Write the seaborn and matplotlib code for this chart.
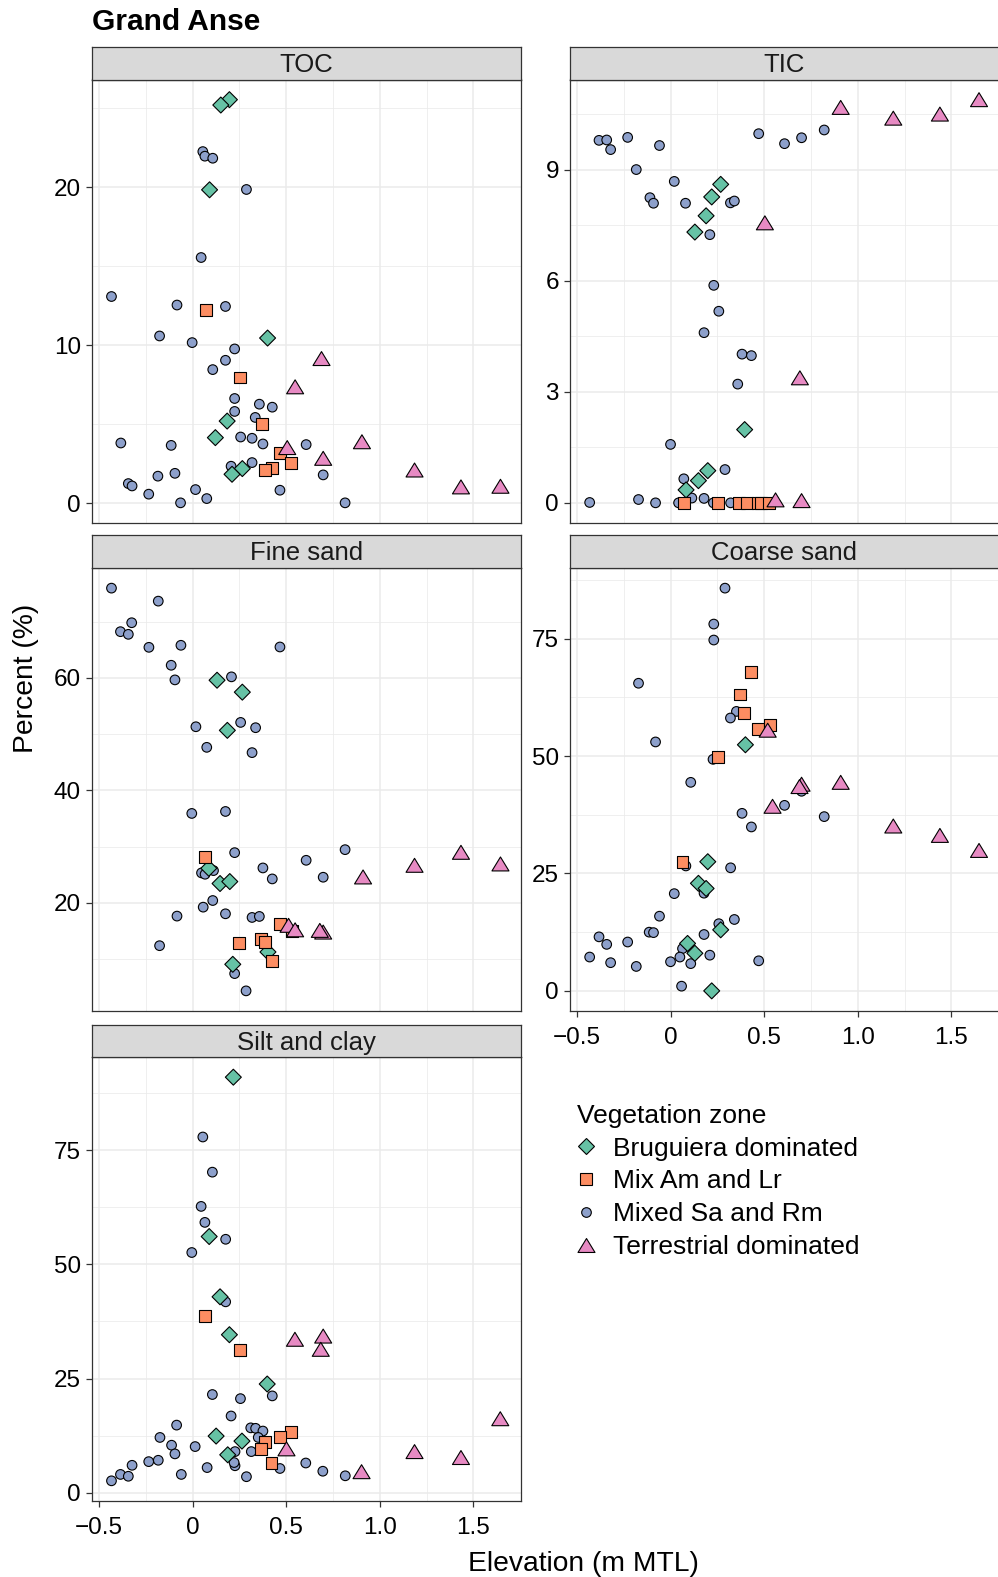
import numpy as np
import pandas as pd
import matplotlib
matplotlib.use("Agg")
import matplotlib.pyplot as plt
from matplotlib.lines import Line2D
from matplotlib.path import Path
from matplotlib.ticker import FixedLocator, FixedFormatter
import seaborn as sns

# ---------------- data ----------------
zones = ["Bruguiera dominated", "Mix Am and Lr", "Mixed Sa and Rm", "Terrestrial dominated"]

# TOC
toc_bru_x = [0.197, 0.151, 0.091, 0.401, 0.185, 0.122, 0.266, 0.211]
toc_bru_y = [25.56, 25.22, 19.85, 10.46, 5.20, 4.15, 2.19, 1.83]
toc_mix_x = [0.071, 0.252, 0.371, 0.465, 0.525, 0.426, 0.385]
toc_mix_y = [12.25, 7.96, 5.03, 3.16, 2.55, 2.25, 2.08]
toc_ter_x = [0.689, 0.548, 0.506, 0.905, 0.698, 1.186, 1.434, 1.645]
toc_ter_y = [9.16, 7.37, 3.52, 3.89, 2.84, 2.10, 1.03, 1.07]
toc_sar_x = [0.055, 0.066, 0.108, 0.288, 0.046, -0.433, -0.083, 0.176, -0.176, -0.002,
             0.225, 0.176, 0.108, 0.225, 0.357, 0.426, 0.225, 0.335, 0.257, 0.318,
             0.376, -0.383, -0.114, 0.607, 0.206, 0.318, -0.094, -0.185, -0.343, -0.323,
             0.698, 0.467, -0.234, 0.016, 0.076, -0.064, 0.815]
toc_sar_y = [22.27, 21.98, 21.85, 19.87, 15.56, 13.09, 12.55, 12.46, 10.59, 10.17,
             9.77, 9.05, 8.46, 6.63, 6.27, 6.08, 5.81, 5.43, 4.19, 4.11,
             3.75, 3.81, 3.66, 3.71, 2.34, 2.57, 1.89, 1.71, 1.24, 1.09,
             1.79, 0.82, 0.57, 0.86, 0.29, 0.02, 0.02]

# TIC
tic_bru_x = [0.268, 0.220, 0.190, 0.130, 0.396, 0.199, 0.149, 0.083]
tic_bru_y = [8.61, 8.27, 7.76, 7.32, 1.98, 0.87, 0.60, 0.35]
tic_mix_x = [0.073, 0.256, 0.368, 0.407, 0.465, 0.483, 0.526]
tic_mix_y = [0.0, 0.0, 0.0, 0.0, 0.0, 0.0, 0.0]
tic_ter_x = [0.909, 1.190, 1.439, 1.648, 0.504, 0.691, 0.561, 0.700]
tic_ter_y = [10.69, 10.40, 10.51, 10.90, 7.57, 3.38, 0.08, 0.06]
tic_sar_x = [-0.382, -0.341, -0.320, -0.229, -0.059, 0.471, 0.609, 0.700, 0.821, -0.183,
             0.020, -0.110, -0.091, 0.080, 0.320, 0.341, 0.210, 0.231, 0.258, 0.179,
             0.382, 0.432, 0.359, 0.000, 0.291, 0.071, -0.432, -0.171, -0.080, 0.043,
             0.114, 0.179, 0.229, 0.321]
tic_sar_y = [9.80, 9.81, 9.55, 9.88, 9.66, 9.98, 9.71, 9.87, 10.08, 9.01,
             8.69, 8.25, 8.10, 8.10, 8.11, 8.16, 7.25, 5.88, 5.18, 4.60,
             4.02, 3.98, 3.21, 1.58, 0.90, 0.65, 0.01, 0.09, 0.00, 0.00,
             0.13, 0.12, 0.00, 0.00]

# Fine sand
fine_bru_x = [0.131, 0.266, 0.186, 0.087, 0.147, 0.199, 0.403, 0.215]
fine_bru_y = [59.57, 57.45, 50.66, 26.14, 23.43, 23.78, 11.26, 9.07]
fine_mix_x = [0.066, 0.247, 0.366, 0.387, 0.467, 0.531, 0.426]
fine_mix_y = [28.21, 12.91, 13.62, 13.0, 16.16, 14.98, 9.6]
fine_ter_x = [0.911, 1.186, 1.434, 1.645, 0.698, 0.680, 0.513, 0.548]
fine_ter_y = [24.6, 26.67, 28.98, 26.91, 14.8, 15.1, 16.0, 15.2]
fine_sar_x = [-0.433, -0.183, -0.325, -0.385, -0.343, -0.233, -0.062, 0.467, -0.114, -0.094,
              0.208, 0.257, 0.018, 0.337, 0.076, 0.318, -0.004, 0.176, 0.225, 0.815,
              0.607, 0.376, 0.048, 0.067, 0.112, 0.426, 0.698, 0.108, 0.057, 0.176,
              -0.083, 0.318, 0.357, -0.176, 0.225, 0.286]
fine_sar_y = [75.94, 73.63, 69.79, 68.2, 67.73, 65.42, 65.78, 65.48, 62.23, 59.63,
              60.17, 52.07, 51.3, 51.13, 47.64, 46.7, 35.89, 36.24, 28.92, 29.45,
              27.56, 26.2, 25.32, 25.08, 25.73, 24.25, 24.55, 20.41, 19.23, 18.05,
              17.64, 17.4, 17.58, 12.38, 7.42, 4.35]

# Coarse sand
coarse_bru_x = [0.400, 0.199, 0.149, 0.190, 0.268, 0.091, 0.130, 0.220]
coarse_bru_y = [52.4, 27.5, 22.9, 21.8, 13.0, 10.1, 8.0, 0.0]
coarse_mix_x = [0.430, 0.369, 0.391, 0.465, 0.529, 0.256, 0.064]
coarse_mix_y = [67.9, 63.1, 59.2, 55.8, 56.6, 49.8, 27.4]
coarse_ter_x = [0.519, 0.700, 0.909, 0.545, 1.190, 1.439, 1.648, 0.689]
coarse_ter_y = [55.5, 44.0, 44.4, 39.3, 35.1, 33.1, 29.9, 43.5]
coarse_sar_x = [0.291, 0.231, 0.231, -0.171, -0.080, 0.352, 0.320, 0.227, 0.108, 0.700,
                0.609, 0.382, 0.821, 0.432, 0.069, 0.082, 0.321, 0.020, 0.179, -0.059,
                -0.114, -0.091, 0.258, 0.341, -0.382, -0.341, -0.229, 0.179, 0.064, -0.432,
                -0.320, -0.183, 0.000, 0.050, 0.108, 0.210, 0.471, 0.059]
coarse_sar_y = [85.75, 78.1, 74.7, 65.5, 53.0, 59.5, 58.1, 49.3, 44.4, 42.5,
                39.5, 37.8, 37.1, 34.9, 27.3, 26.6, 26.2, 20.7, 20.8, 15.9,
                12.5, 12.4, 14.3, 15.2, 11.5, 9.9, 10.4, 12.0, 9.0, 7.2,
                6.0, 5.2, 6.2, 7.2, 5.8, 7.6, 6.4, 1.0]

# Silt and clay
silt_bru_x = [0.218, 0.089, 0.147, 0.197, 0.399, 0.126, 0.264, 0.188]
silt_bru_y = [91.0, 56.1, 42.9, 34.6, 23.8, 12.4, 11.3, 8.3]
silt_mix_x = [0.066, 0.252, 0.525, 0.465, 0.389, 0.366, 0.422]
silt_mix_y = [38.8, 31.3, 13.2, 12.1, 11.2, 9.6, 6.5]
silt_ter_x = [0.547, 0.698, 0.685, 0.502, 0.903, 1.186, 1.434, 1.644]
silt_ter_y = [33.6, 34.3, 31.4, 9.6, 4.6, 9.0, 7.7, 16.2]
silt_sar_x = [0.055, 0.106, 0.046, 0.066, 0.177, -0.004, 0.177, 0.106, 0.426, 0.256,
              0.206, -0.085, 0.311, 0.337, 0.376, 0.351, -0.174, -0.112, 0.014, -0.094,
              0.227, 0.314, -0.234, -0.183, -0.323, -0.385, -0.343, -0.433, -0.060, 0.078,
              0.227, 0.222, 0.288, 0.467, 0.605, 0.696, 0.816]
silt_sar_y = [77.9, 70.2, 62.7, 59.2, 55.5, 52.6, 41.8, 21.5, 21.2, 20.6,
              16.8, 14.8, 14.2, 14.1, 13.5, 12.1, 12.1, 10.4, 10.1, 8.5,
              9.0, 9.0, 6.8, 7.1, 6.0, 4.0, 3.6, 2.6, 4.0, 5.5,
              5.9, 6.6, 3.5, 5.3, 6.5, 4.7, 3.7]

panels = ["TOC", "TIC", "Fine sand", "Coarse sand", "Silt and clay"]
panel_data = {
    "TOC": [(toc_sar_x, toc_sar_y), (toc_bru_x, toc_bru_y), (toc_mix_x, toc_mix_y), (toc_ter_x, toc_ter_y)],
    "TIC": [(tic_sar_x, tic_sar_y), (tic_bru_x, tic_bru_y), (tic_mix_x, tic_mix_y), (tic_ter_x, tic_ter_y)],
    "Fine sand": [(fine_sar_x, fine_sar_y), (fine_bru_x, fine_bru_y), (fine_mix_x, fine_mix_y), (fine_ter_x, fine_ter_y)],
    "Coarse sand": [(coarse_sar_x, coarse_sar_y), (coarse_bru_x, coarse_bru_y), (coarse_mix_x, coarse_mix_y), (coarse_ter_x, coarse_ter_y)],
    "Silt and clay": [(silt_sar_x, silt_sar_y), (silt_bru_x, silt_bru_y), (silt_mix_x, silt_mix_y), (silt_ter_x, silt_ter_y)],
}
draw_zone_order = ["Mixed Sa and Rm", "Bruguiera dominated", "Mix Am and Lr", "Terrestrial dominated"]

y_ticks = {
    "TOC": [0, 10, 20],
    "TIC": [0, 3, 6, 9],
    "Fine sand": [20, 40, 60],
    "Coarse sand": [0, 25, 50, 75],
    "Silt and clay": [0, 25, 50, 75],
}
x_ticks = [-0.5, 0, 0.5, 1.0, 1.5]
x_tick_labels = ["\u22120.5", "0", "0.5", "1.0", "1.5"]

rows = []
for p in panels:
    for zone, (xs, ys) in zip(draw_zone_order, panel_data[p]):
        for x, y in zip(xs, ys):
            rows.append({"panel": p, "zone": zone, "elev": x, "value": y})
df = pd.DataFrame(rows)

# ---------------- style ----------------
plt.rcParams["font.family"] = ["Liberation Sans", "DejaVu Sans"]
palette = {"Bruguiera dominated": "#66C2A5", "Mix Am and Lr": "#FC8D62",
           "Mixed Sa and Rm": "#8DA0CB", "Terrestrial dominated": "#E78AC3"}
tri = Path([(-1, -0.82), (1, -0.82), (0, 0.82), (-1, -0.82)],
           [Path.MOVETO, Path.LINETO, Path.LINETO, Path.CLOSEPOLY])
markers = {"Bruguiera dominated": "D", "Mix Am and Lr": "s",
           "Mixed Sa and Rm": "o", "Terrestrial dominated": tri}
sizes = {"Bruguiera dominated": 66, "Mix Am and Lr": 74,
         "Mixed Sa and Rm": 48, "Terrestrial dominated": 150}

W, H = 998, 1577
fig = plt.figure(figsize=(W / 100, H / 100), dpi=100)


def rect(x0, x1, y0, y1):
    return [x0 / W, 1 - y1 / H, (x1 - x0) / W, (y1 - y0) / H]


LC = (92, 520.5)
RC = (570, 998.5)
layout = {
    "TOC": (LC, (79.5, 523), (47, 79.5), "left"),
    "TIC": (RC, (79.5, 523), (47, 79.5), "right"),
    "Fine sand": (LC, (568, 1011), (535, 568), "left"),
    "Coarse sand": (RC, (568, 1011), (535, 568), "right"),
    "Silt and clay": (LC, (1057, 1501), (1025, 1057), "left"),
}
bottom_panels = {"Coarse sand", "Silt and clay"}

xmin, xmax = df["elev"].min(), df["elev"].max()
xpad = 0.05 * (xmax - xmin)
xlim = (xmin - xpad, xmax + xpad)

edge_col = "#333333"
grid_col = "#EBEBEB"

for p in panels:
    (x0, x1), (py0, py1), (sy0, sy1), side = layout[p]
    ax = fig.add_axes(rect(x0, x1, py0, py1))
    ax.set_facecolor("white")
    sub = df[df["panel"] == p]
    sns.scatterplot(data=sub, x="elev", y="value", hue="zone", style="zone", size="zone",
                    palette=palette, markers=markers, sizes=sizes,
                    hue_order=zones, style_order=zones, size_order=zones,
                    edgecolor="black", linewidth=0.8, legend=False, ax=ax, zorder=3)
    ymin, ymax = sub["value"].min(), sub["value"].max()
    ypad = 0.05 * (ymax - ymin)
    ax.set_xlim(*xlim)
    ax.set_ylim(ymin - ypad, ymax + ypad)

    yt = y_ticks[p]
    step = yt[1] - yt[0]
    ax.yaxis.set_major_locator(FixedLocator(yt))
    ax.yaxis.set_major_formatter(FixedFormatter([str(t) for t in yt]))
    yminor = [yt[0] - step / 2] + [t + step / 2 for t in yt]
    ax.yaxis.set_minor_locator(FixedLocator(yminor))
    ax.xaxis.set_major_locator(FixedLocator(x_ticks))
    ax.xaxis.set_major_formatter(FixedFormatter(x_tick_labels))
    ax.xaxis.set_minor_locator(FixedLocator([-0.25, 0.25, 0.75, 1.25]))

    ax.grid(which="major", color=grid_col, linewidth=1.1, zorder=0)
    ax.grid(which="minor", color=grid_col, linewidth=0.55, zorder=0)
    ax.set_axisbelow(True)
    ax.tick_params(which="minor", length=0)
    ax.tick_params(axis="y", which="major", length=4, width=0.9, color=edge_col,
                   labelsize=17.5, labelcolor="black", pad=4)
    if p in bottom_panels:
        ax.tick_params(axis="x", which="major", length=4, width=0.9, color=edge_col,
                       labelsize=17.5, labelcolor="black", pad=7.5)
    else:
        ax.tick_params(axis="x", which="major", length=0, labelbottom=False)
    ax.set_xlabel("")
    ax.set_ylabel("")
    for sp in ax.spines.values():
        sp.set_color(edge_col)
        sp.set_linewidth(0.9)
    if side == "right":
        ax.spines["right"].set_visible(False)

    sax = fig.add_axes(rect(x0, x1, sy0, sy1))
    sax.set_facecolor("#D9D9D9")
    sax.set_xticks([])
    sax.set_yticks([])
    for sp in sax.spines.values():
        sp.set_color(edge_col)
        sp.set_linewidth(0.9)
    if side == "right":
        sax.spines["right"].set_visible(False)
    sax.text(0.5, 0.45, p, ha="center", va="center", fontsize=18.5, color="#1A1A1A",
             transform=sax.transAxes)

fig.text(92 / W, 1 - 30.5 / H, "Grand Anse", fontsize=21.5, fontweight="bold",
         ha="left", va="baseline", color="black")
fig.text(26 / W, 1 - 678 / H, "Percent (%)", rotation=90, fontsize=20.3,
         ha="center", va="center", color="black")
fig.text(583 / W, 1 - 1564 / H, "Elevation (m MTL)", fontsize=20.3,
         ha="center", va="center", color="black")

handles = [Line2D([0], [0], marker=markers[z], linestyle="none", markerfacecolor=palette[z],
                  markeredgecolor="black", markeredgewidth=0.8, markersize=np.sqrt(sizes[z]))
           for z in zones]
fig.legend(handles, zones, loc="upper left", bbox_to_anchor=(564 / W, 1 - 1091 / H),
           frameon=False, fontsize=19, title="Vegetation zone", title_fontsize=19,
           alignment="left", handlelength=0.7, handletextpad=0.65, labelspacing=0.33,
           borderpad=0.49, borderaxespad=0)

fig.savefig("out.png", dpi=100)
